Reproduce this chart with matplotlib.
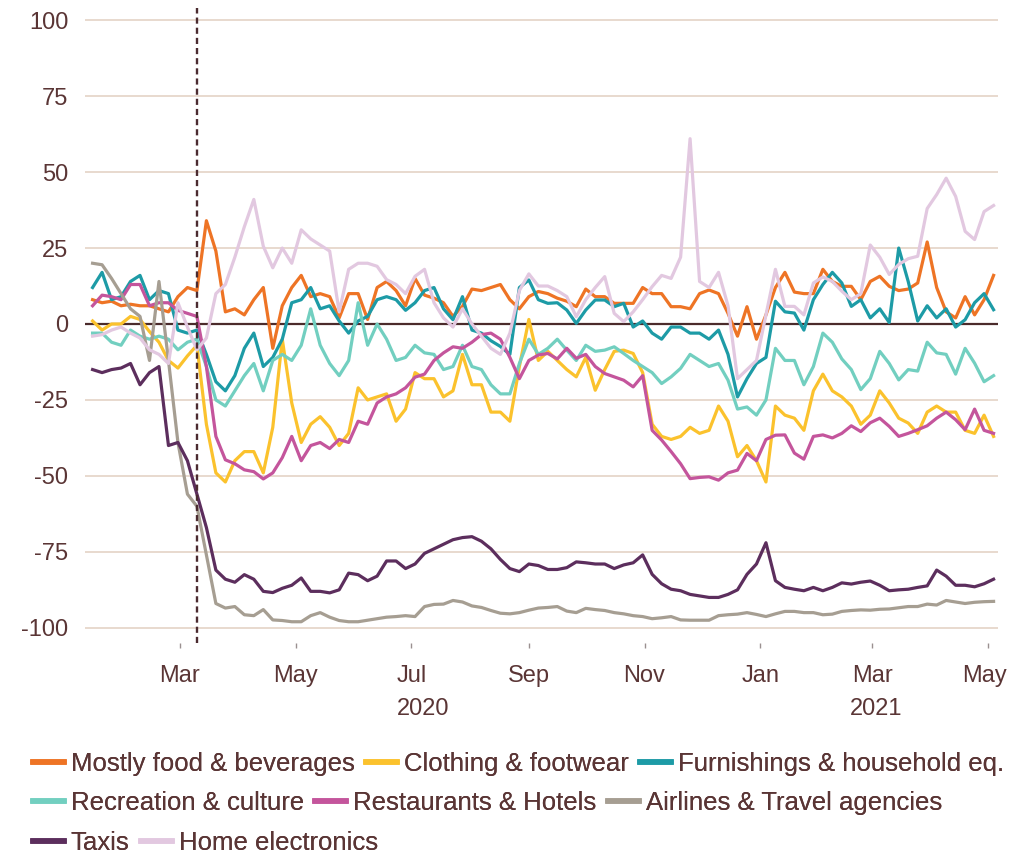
import numpy as np
import pandas as pd
import matplotlib
matplotlib.use('Agg')
import matplotlib.pyplot as plt
import matplotlib.dates as mdates
import matplotlib.transforms as mtransforms

# fechas cada 5 dias
dates = pd.date_range('2020-01-15', periods=96, freq='5D')

food = [8, 7, 7.5, 6, 6.5, 6, 6, 5, 4, 9, 12, 11,
        34, 24, 4, 5, 3, 8, 12, -8, 6, 12, 16, 9, 10,
        9, 2, 10, 10, 1.5, 12, 14, 11, 6, 15, 9.5, 8.5, 7, 2.5, 5.8, 11.5, 11, 12, 13, 8, 5, 9, 10.7,
        10, 8.5, 7.5, 5.7, 11.5, 9, 9, 6.8, 6.8, 6.8, 12, 10, 10, 5.7, 5.7, 5, 10, 11.2, 10, 3.5, -4, 5.7, -5, 3, 12,
        17, 10.5, 10, 10, 18, 14, 12.4, 12.4, 8, 14, 15.7, 12.4, 11, 11.5, 13.5, 27, 12, 4, 2, 9, 3, 8, 16]

clothing = [1, -2, 0, 0, 2.5, 1.5, -2.5, -6, -12, -14.5, -10.5, -7, -33, -49, -52, -45, -42, -42, -49, -34, -5, -26, -39, -33, -30.5,
            -34, -40, -36, -21, -25, -24, -23, -32, -28, -16, -18, -18, -24, -22, -10, -20, -20, -29, -29, -32, -14, 1.5, -12,
            -9, -12, -15, -17.4, -11, -21.8, -15, -9, -8.6, -9.7, -16, -33, -37, -38, -37, -34, -36, -35, -27, -32, -43.7, -40, -45, -52, -27,
            -30, -31, -35, -22, -16.5, -22, -24, -27, -33, -30, -22, -26, -31, -32.6, -36, -29, -27, -29, -29, -35, -36, -30, -37]

furnishings = [12, 17, 8, 9, 14, 16, 8, 11, 10, -2, -3, -2, -10, -19, -22, -17, -8, -3, -14, -11, -5, 7, 8, 12, 5,
               6, 1, -3, 1, 2.5, 8, 9, 8, 4.5, 7, 11, 12, 5, 1.4, 9, -2, -3, -5.5, -7.4, -10, 12, 14.5, 8,
               6.8, 7, 4.6, 0.2, 4.6, 7.9, 7.9, 5.7, 6.8, -1, 1, -3, -5, -1, -1, -3, -3, -5, -2, -10, -24, -18, -13, -11, 7.5,
               4, 3.6, -2, 8, 13, 17, 13.5, 5.8, 8, 2, 5, 0.5, 25, 14, 1, 6, 2, 5, -1, 1.4, 7, 10, 4.7]

recreation = [-3, -3, -6, -7, -2, -4, -5, -4, -5, -8.5, -6, -5, -14, -25, -27, -22, -17, -13, -22, -12, -10, -12, -7, 5, -7,
              -13, -17, -12, 7, -7, 0, -5, -12, -11, -7, -9.5, -10, -15, -14, -7, -14, -15, -20, -23, -23, -13, -5, -10,
              -8, -5, -8.6, -12, -7, -9, -8.6, -7.5, -9.7, -12, -14, -16, -19.6, -17.4, -14.6, -10, -12, -14, -13, -18.5, -28, -27.3, -30, -25, -8,
              -12, -12, -20, -14, -3, -6, -11.5, -15, -21.6, -18, -9, -13, -18.4, -15, -15.5, -6, -9.5, -10, -16.5, -8, -12.9, -19, -17]

restaurants = [6, 9.5, 9, 8, 13, 13, 6, 7, 7, 4.5, 3.5, 2.5, -14, -37, -44.7, -46, -48, -48.6, -51, -49, -44, -37, -45, -40, -39,
               -41, -38, -39, -32, -33, -26, -24, -23, -21, -17.5, -16.5, -12, -9.5, -7.5, -8, -6, -3.5, -3, -5, -11, -18, -12, -10.2,
               -9.7, -11.5, -8, -11.3, -10, -14, -16.3, -17.4, -18.5, -20.7, -17, -35, -38.2, -42, -46, -50.9, -50.5, -50.3, -51.4, -49, -48.1, -42.6, -45, -38, -36.6,
               -36.5, -42.5, -44.5, -37, -36.5, -37.5, -36, -33.5, -35.4, -32.5, -31, -33.7, -37, -36, -34.8, -33.5, -31, -29, -31.5, -34.8, -28, -35, -36]

airlines = [20, 19.5, 15, 10, 5, 2.5, -12, 14, -12, -39, -56, -60, -76, -92, -93.5, -93, -95.7, -96, -94, -97.4, -97.6, -98, -98, -96, -95,
            -96.5, -97.6, -98, -98, -97.5, -97, -96.5,
            -96.3, -96, -96.3, -93, -92.3, -92.2, -91, -91.5, -92.8, -93.3,
            -94.3, -95.2, -95.4, -95, -94.2, -93.5, -93.3, -93, -94.5, -95,
            -93.6, -94, -94.3, -95, -95.4, -96, -96.3, -97, -96.7, -96.3,
            -97.4, -97.5, -97.5, -97.5, -96, -95.7, -95.5, -95, -95.6, -96.3,
            -95.4, -94.6, -94.6, -95, -95, -95.7, -95.5, -94.6, -94.3, -94.1,
            -94.2, -93.9, -93.8, -93.4, -93, -93, -92.2, -92.5, -91, -91.5,
            -92, -91.6, -91.4, -91.3]

taxis = [-15, -16, -15, -14.5, -13, -20, -16, -14, -40, -39, -45, -56, -67, -81, -84, -85, -82.5, -84, -88, -88.4, -87, -86,
         -83.6, -88, -88, -88.5, -87.5, -82, -82.5, -84.5, -83, -78,
         -78, -80.5, -79, -75.5, -74, -72.5, -71, -70.3, -70, -71.5,
         -74, -77.5, -80.5, -81.5, -79, -79.5, -80.8, -80.8, -80.2, -78.3,
         -78.6, -79, -79, -80.5, -79.3, -78.6, -76, -82.4, -85.5, -87.3,
         -87.8, -89, -89.5, -90, -90, -89, -87.5, -82.4, -79, -72,
         -84.5, -86.7, -87.3, -87.8, -86.7, -87.8, -86.7, -85.2, -85.6, -85,
         -84.6, -86, -87.8, -87.5, -87.3, -86.7, -86.2, -81, -83, -86,
         -86, -86.5, -85.5, -84]

electronics = [-4, -3.5, -2, -1, -3, -4.6, -8.5, -10, -13, 7, -1, -8.5, -4.6, 10, 13, 22, 32, 41, 25.6, 18.5, 25, 20, 31, 28, 26,
               24, 4, 18, 20, 20, 19, 14.6, 13, 10, 15.7, 18, 7, 2, -1, 5, 0, -4, -8, -10, -3, 11, 16.5, 12.5,
               12.5, 11, 9, 2.4, 8, 12, 15.6, 3.5, 0.8, 4, 8, 12.3, 16, 15, 22, 61, 14, 12, 17, 6, -18, -15, -12, 3, 18,
               5.8, 5.8, 3, 13.5, 15.5, 14, 10.8, 8, 10, 26, 22, 16.3, 19.6, 21.5, 22.3, 38, 42.6, 48, 42, 30.5, 27.8, 37, 39]

series = ['Mostly food & beverages', 'Clothing & footwear', 'Furnishings & household eq.',
          'Recreation & culture', 'Restaurants & Hotels', 'Airlines & Travel agencies',
          'Taxis', 'Home electronics']
values = [food, clothing, furnishings, recreation, restaurants, airlines, taxis, electronics]
colors = ['#ee7425', '#fbc22d', '#1d9ba6', '#72cfc0', '#c4559c', '#a69e92', '#5c2e5d', '#e2c8e0']

month_ticks = pd.to_datetime(['2020-03-01', '2020-05-01', '2020-07-01', '2020-09-01',
                              '2020-11-01', '2021-01-01', '2021-03-01', '2021-05-01'])
month_labels = ['Mar', 'May', 'Jul', 'Sep', 'Nov', 'Jan', 'Mar', 'May']
year_labels = ['2020', '2021']
year_pos = pd.to_datetime(['2020-07-07', '2021-03-03'])
lockdown = pd.Timestamp('2020-03-10')

text_col = '#5a3535'
plt.rcParams['font.family'] = ['Liberation Sans', 'DejaVu Sans']
plt.rcParams['font.size'] = 18.5

fig = plt.figure(figsize=(10.09, 8.59), dpi=100)
ax = fig.add_axes([85 / 1009, 1 - 643 / 859, 913 / 1009, 638 / 859])

for y in [-100, -75, -50, -25, 25, 50, 75, 100]:
    ax.axhline(y, color='#e4d3c6', lw=1.2, zorder=0)
ax.axhline(0, color='#4b2b2b', lw=1.6, zorder=1)

for name, v, c in zip(series, values, colors):
    ax.plot(dates, v, color=c, lw=2.3, label=name, solid_joinstyle='round', zorder=2)

ax.axvline(lockdown, ymin=0, ymax=0.995, color='#4b2b30', lw=1.7, ls=(0, (2.6, 1.7)), zorder=3)

ax.set_ylim(-105, 105)
ax.set_xlim(pd.Timestamp('2020-01-11'), pd.Timestamp('2021-05-06 08:00'))
ax.set_yticks([-100, -75, -50, -25, 0, 25, 50, 75, 100])
ax.set_yticklabels(['-100', '-75', '-50', '-25', '0', '25', '50', '75', '100'])
ax.set_xticks(month_ticks)
ax.set_xticklabels(month_labels)
ax.tick_params(axis='y', length=0, pad=12, colors=text_col, labelsize=17)
ax.tick_params(axis='x', length=3.8, width=1, color='#9a9090', pad=12, labelcolor=text_col, labelsize=17)
for s in ax.spines.values():
    s.set_visible(False)

# la ultima etiqueta un poco a la izquierda para que no se corte
last = ax.get_xticklabels()[-1]
last.set_transform(last.get_transform() + mtransforms.ScaledTranslation(-3 / 100, 0, fig.dpi_scale_trans))

trans = mtransforms.blended_transform_factory(ax.transData, ax.transAxes)
for lab, pos in zip(year_labels, year_pos):
    ax.text(pos, -0.104, lab, transform=trans, ha='center', va='center', color=text_col, fontsize=17)

# leyenda en tres filas
handles, labels = ax.get_legend_handles_labels()
rows = [(0, 3, 764), (3, 6, 803), (6, 8, 843)]
for a, b, yc in rows:
    leg = fig.legend(handles[a:b], labels[a:b], loc='center left',
                     bbox_to_anchor=(33 / 1009, 1 - yc / 859), ncol=b - a, frameon=False,
                     handlelength=1.2, handletextpad=0.27, columnspacing=0.45,
                     borderpad=0, borderaxespad=0)
    for t in leg.get_texts():
        t.set_color(text_col)
    for h in leg.get_lines():
        h.set_linewidth(4)
    fig.add_artist(leg)

fig.savefig('out.png', dpi=100)
